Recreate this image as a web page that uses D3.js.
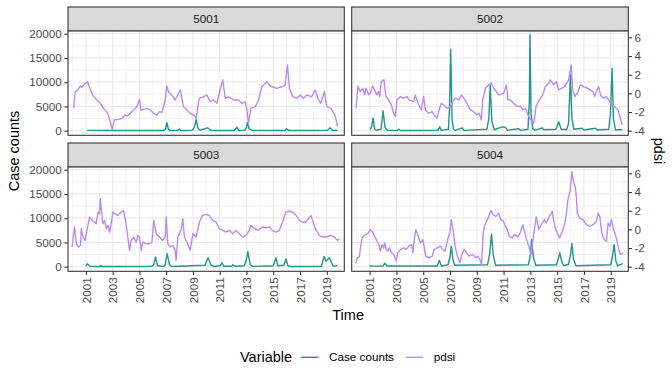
<!DOCTYPE html>
<html>
<head>
<meta charset="utf-8">
<script src="https://cdn.jsdelivr.net/npm/d3@7"></script>
<style>
body { margin: 0; background: #fff; }
text { font-family: "Liberation Sans", Arial, Helvetica, sans-serif; }
</style>
</head>
<body>
<svg id="chart" width="672" height="384"></svg>
<script>
// sites (facets)
var sites = ["5001", "5002", "5003", "5004"];

// pdsi per site: [year, pdsi]
var pdsi5001 = [[2000.08,-1.61],[2000.20,0.18],[2000.38,0.36],[2000.58,0.79],[2000.70,0.64],[2000.83,0.89],[2001.12,1.25],[2001.32,0.43],[2001.57,-0.36],[2001.82,-0.71],[2002.07,-1.07],[2002.32,-1.61],[2002.62,-2.14],[2002.82,-3.04],[2002.97,-3.86],[2003.12,-2.86],[2003.44,-2.79],[2003.69,-2.68],[2003.94,-2.32],[2004.06,-2.43],[2004.31,-2.14],[2004.56,-1.79],[2004.81,-1.43],[2005.01,-0.64],[2005.11,-1.79],[2005.56,-1.61],[2005.80,-1.79],[2006.05,-2.14],[2006.30,-2.32],[2006.50,-1.96],[2006.68,-2.07],[2006.92,-0.71],[2007.05,0.79],[2007.17,0.18],[2007.42,-0.18],[2007.67,-0.71],[2008.05,0.36],[2008.29,-1.43],[2008.54,-1.79],[2008.79,-2.14],[2009.04,-2.32],[2009.24,-2.68],[2009.46,-0.54],[2009.79,-0.36],[2010.04,-0.18],[2010.29,-0.89],[2010.53,-0.71],[2010.78,-1.07],[2011.03,0.36],[2011.23,1.43],[2011.41,-0.54],[2011.65,-0.36],[2012.03,-0.71],[2012.40,-0.71],[2012.65,-1.07],[2012.90,-0.89],[2013.02,-1.61],[2013.15,-3.21],[2013.32,-1.61],[2013.65,-1.43],[2013.90,-0.71],[2014.14,0.71],[2014.52,1.25],[2014.77,0.79],[2015.26,0.54],[2015.64,0.71],[2015.89,0.89],[2016.06,3.04],[2016.21,0.54],[2016.46,-0.36],[2016.76,-0.54],[2017.01,-0.18],[2017.26,-0.54],[2017.50,-0.18],[2017.88,-0.36],[2018.13,0.36],[2018.38,-0.71],[2018.55,-1.07],[2018.82,0.18],[2019.00,-1.43],[2019.30,-1.61],[2019.62,-2.32],[2019.80,-3.57]];
var pdsi5002 = [[1999.98,-1.60],[2000.13,0.80],[2000.30,0.19],[2000.48,0.55],[2000.63,-0.16],[2000.73,0.55],[2000.93,-0.16],[2001.05,0.01],[2001.22,0.80],[2001.37,0.37],[2001.55,-0.16],[2001.67,0.19],[2001.75,-0.34],[2001.87,1.27],[2002.07,1.45],[2002.22,-0.34],[2002.42,-0.70],[2002.62,-1.24],[2002.79,-2.14],[2002.92,-2.49],[2003.04,-0.70],[2003.29,-0.34],[2003.54,-0.52],[2003.79,-0.34],[2003.91,-0.70],[2004.29,-0.88],[2004.41,-0.16],[2004.61,-1.06],[2004.86,-1.78],[2005.03,-0.34],[2005.16,-1.78],[2005.41,-2.14],[2005.66,-1.96],[2005.90,-2.49],[2006.03,-2.67],[2006.15,-1.96],[2006.35,-1.06],[2006.53,-1.24],[2006.78,-1.60],[2007.02,-1.42],[2007.20,-0.88],[2007.40,-0.52],[2007.65,-0.70],[2007.85,-0.16],[2008.02,-0.52],[2008.27,-1.06],[2008.52,-1.78],[2008.77,-1.96],[2009.02,-2.32],[2009.19,-2.14],[2009.34,-2.85],[2009.44,-0.70],[2009.64,0.55],[2009.89,0.91],[2010.09,1.09],[2010.26,0.55],[2010.63,-0.16],[2011.01,0.01],[2011.21,0.91],[2011.33,-0.70],[2011.51,-0.70],[2011.75,-1.06],[2012.00,-1.42],[2012.25,-1.35],[2012.43,-1.78],[2012.63,-1.60],[2012.82,-2.32],[2012.95,-2.67],[2013.12,-3.03],[2013.25,-3.21],[2013.42,-1.42],[2013.67,-0.70],[2013.92,-0.16],[2014.12,0.73],[2014.37,1.09],[2014.49,1.45],[2014.74,0.91],[2014.94,1.27],[2015.11,0.37],[2015.36,0.55],[2015.56,0.73],[2015.86,1.45],[2016.04,3.06],[2016.16,0.37],[2016.31,-0.34],[2016.56,0.19],[2016.73,0.91],[2016.98,0.73],[2017.23,0.55],[2017.48,0.37],[2017.68,0.19],[2017.80,-0.34],[2017.98,0.37],[2018.10,0.73],[2018.23,-0.16],[2018.48,-0.52],[2018.65,-0.34],[2018.85,-0.70],[2019.05,-1.24],[2019.30,-1.42],[2019.55,-1.78],[2019.72,-2.67],[2019.85,-3.39]];
var pdsi5003 = [[1999.96,-1.89],[2000.15,0.25],[2000.28,-1.54],[2000.45,-1.89],[2000.60,-1.71],[2000.65,0.07],[2000.78,-0.82],[2000.95,-1.18],[2001.15,0.43],[2001.27,1.32],[2001.47,0.96],[2001.65,0.79],[2001.77,0.61],[2001.90,1.86],[2002.02,1.68],[2002.07,3.29],[2002.17,1.86],[2002.27,0.61],[2002.39,0.96],[2002.52,0.07],[2002.64,0.43],[2002.77,-0.29],[2002.89,0.61],[2003.01,1.86],[2003.14,1.68],[2003.39,1.50],[2003.64,1.86],[2003.81,2.04],[2003.96,0.96],[2004.13,-0.82],[2004.26,-2.25],[2004.38,-1.18],[2004.56,-0.82],[2004.76,-1.36],[2004.88,-0.64],[2005.00,-0.82],[2005.13,-2.25],[2005.25,-1.36],[2005.50,-1.54],[2005.75,-1.54],[2005.93,-1.36],[2006.07,0.96],[2006.25,-0.46],[2006.50,-0.82],[2006.75,-1.18],[2006.92,-0.82],[2007.00,1.32],[2007.12,-1.54],[2007.29,-1.89],[2007.49,-1.71],[2007.67,-2.25],[2007.74,-3.32],[2007.87,-0.82],[2008.11,-0.11],[2008.24,1.14],[2008.36,-0.82],[2008.61,-1.54],[2008.79,-2.25],[2008.99,-0.46],[2009.23,-0.82],[2009.48,0.79],[2009.73,1.50],[2009.98,1.61],[2010.23,1.50],[2010.48,0.96],[2010.73,0.79],[2010.98,0.07],[2011.22,-0.11],[2011.47,-0.29],[2011.72,-0.11],[2011.97,-0.46],[2012.22,-0.11],[2012.47,-0.46],[2012.72,-0.82],[2012.97,-0.64],[2013.21,-0.11],[2013.34,0.43],[2013.59,0.07],[2013.84,-0.11],[2014.21,0.25],[2014.46,0.18],[2014.71,0.25],[2014.91,-0.11],[2015.20,-0.29],[2015.45,-0.11],[2015.70,0.79],[2015.95,1.86],[2016.20,1.96],[2016.45,1.86],[2016.70,1.50],[2016.95,0.96],[2017.19,0.79],[2017.44,0.79],[2017.82,1.50],[2017.94,0.96],[2018.14,0.07],[2018.44,-0.64],[2018.69,-0.82],[2018.94,-0.82],[2019.31,-0.64],[2019.56,-0.82],[2019.81,-1.18],[2019.93,-1.00]];
var pdsi5004 = [[1999.98,-3.57],[2000.08,-3.04],[2000.23,-2.94],[2000.30,-2.16],[2000.43,-0.91],[2000.68,-0.56],[2000.85,-0.49],[2001.05,-0.03],[2001.18,-0.21],[2001.38,-0.74],[2001.55,-1.27],[2001.68,-1.62],[2001.80,-2.33],[2001.93,-1.62],[2002.05,-1.98],[2002.13,-1.45],[2002.23,-2.16],[2002.38,-2.33],[2002.48,-1.98],[2002.63,-2.51],[2002.80,-2.69],[2002.98,-3.40],[2003.10,-2.51],[2003.30,-2.16],[2003.55,-1.98],[2003.73,-2.16],[2003.93,-1.80],[2004.13,-1.62],[2004.23,-2.51],[2004.33,-1.09],[2004.45,-0.03],[2004.58,-0.56],[2004.80,-1.45],[2004.98,-1.09],[2005.18,-2.87],[2005.43,-3.04],[2005.68,-2.87],[2005.80,-2.16],[2006.05,-1.98],[2006.30,-1.80],[2006.43,-2.16],[2006.63,-2.33],[2006.83,-1.09],[2006.98,-0.38],[2007.10,1.04],[2007.23,-0.03],[2007.38,-1.80],[2007.55,-2.87],[2007.73,-3.57],[2007.88,-2.69],[2008.05,-2.16],[2008.23,-2.51],[2008.43,-2.87],[2008.68,-2.69],[2008.93,-3.04],[2009.05,-2.87],[2009.23,-3.22],[2009.35,-3.75],[2009.48,-0.38],[2009.60,0.50],[2009.80,1.04],[2009.93,1.57],[2010.05,2.03],[2010.23,1.57],[2010.43,1.39],[2010.63,1.74],[2010.80,1.04],[2011.00,0.86],[2011.13,0.33],[2011.23,0.15],[2011.43,-0.74],[2011.63,-0.91],[2011.80,-0.56],[2012.05,-0.81],[2012.23,-0.38],[2012.35,0.15],[2012.43,0.50],[2012.68,-0.91],[2012.88,-1.80],[2013.05,-2.69],[2013.23,-0.74],[2013.43,1.32],[2013.63,-0.03],[2013.80,0.50],[2014.05,1.04],[2014.18,0.68],[2014.43,1.39],[2014.63,1.92],[2014.73,1.04],[2014.85,0.15],[2015.18,-0.91],[2015.38,-0.21],[2015.55,0.50],[2015.68,1.57],[2015.80,3.16],[2015.98,4.23],[2016.10,6.18],[2016.23,5.11],[2016.35,4.58],[2016.43,3.52],[2016.50,1.74],[2016.68,1.21],[2016.93,1.04],[2017.18,0.50],[2017.43,0.33],[2017.68,0.50],[2017.93,0.86],[2018.05,1.74],[2018.18,1.39],[2018.33,-0.38],[2018.50,-1.09],[2018.68,-1.27],[2018.80,0.68],[2018.93,0.33],[2019.05,1.04],[2019.18,0.15],[2019.38,-0.74],[2019.50,-1.45],[2019.63,-2.33],[2019.73,-2.69],[2019.93,-2.51]];

// case counts per site: [year, cases]
var cases5001 = [[2001.07,60],[2003.5,40],[2006.8,50],[2006.95,300],[2007.05,1650],[2007.17,250],[2007.3,60],[2007.85,60],[2007.97,350],[2008.1,50],[2008.95,100],[2009.1,700],[2009.24,2300],[2009.38,400],[2009.55,120],[2009.9,400],[2010.1,600],[2010.3,150],[2010.5,40],[2012.1,50],[2012.28,750],[2012.42,50],[2012.9,120],[2013.0,700],[2013.07,1700],[2013.2,400],[2013.4,60],[2015.85,50],[2016.0,400],[2016.15,50],[2019.05,60],[2019.25,600],[2019.42,100],[2019.8,60]];
var cases5002 = [[2001.05,150],[2001.15,800],[2001.25,2650],[2001.38,300],[2001.5,100],[2001.85,300],[2002.0,4100],[2002.15,700],[2002.3,100],[2003.05,60],[2003.17,300],[2003.3,50],[2006.1,60],[2006.23,800],[2006.35,60],[2006.88,300],[2006.97,5000],[2007.05,16800],[2007.15,2500],[2007.25,300],[2007.4,80],[2007.9,600],[2008.05,60],[2009.75,300],[2009.9,2500],[2010.0,9450],[2010.12,2000],[2010.3,200],[2010.88,800],[2011.13,700],[2011.3,100],[2012.13,400],[2012.3,60],[2012.82,300],[2012.92,6000],[2012.97,19800],[2013.05,3500],[2013.18,400],[2013.35,60],[2013.87,600],[2014.0,200],[2014.9,300],[2015.11,1850],[2015.3,300],[2015.7,200],[2015.85,1500],[2015.99,11500],[2016.1,2500],[2016.25,300],[2016.86,500],[2017.0,150],[2017.85,500],[2018.0,150],[2018.85,300],[2018.98,3500],[2019.1,12900],[2019.2,2500],[2019.35,200],[2019.85,200]];
var cases5003 = [[2001.0,100],[2001.1,600],[2001.3,100],[2002.0,50],[2002.1,150],[2002.25,30],[2005.9,60],[2006.05,300],[2006.2,2000],[2006.35,200],[2006.8,60],[2006.92,400],[2007.07,2700],[2007.25,400],[2007.4,50],[2009.9,300],[2010.13,1850],[2010.35,300],[2010.55,50],[2011.05,200],[2011.17,820],[2011.3,100],[2011.9,100],[2011.97,400],[2012.15,100],[2012.85,200],[2013.0,1500],[2013.1,3150],[2013.28,400],[2013.45,60],[2015.0,200],[2015.2,1850],[2015.35,200],[2015.8,300],[2015.95,1650],[2016.1,200],[2016.3,40],[2018.6,100],[2018.8,2100],[2018.95,1150],[2019.2,1850],[2019.45,200],[2019.6,80],[2019.8,350]];
var cases5004 = [[2001.0,200],[2001.3,120],[2002.0,120],[2002.13,700],[2002.3,150],[2006.05,150],[2006.2,1360],[2006.35,150],[2006.85,400],[2007.0,2000],[2007.1,4230],[2007.22,1500],[2007.35,300],[2009.8,400],[2009.95,2500],[2010.1,6750],[2010.22,2500],[2010.4,300],[2012.85,400],[2013.0,2500],[2013.1,5600],[2013.22,2000],[2013.4,300],[2014.95,400],[2015.1,1800],[2015.2,2870],[2015.35,900],[2015.5,200],[2015.85,500],[2016.0,2500],[2016.1,4780],[2016.22,1500],[2016.4,200],[2019.0,400],[2019.12,2000],[2019.25,4570],[2019.38,1200],[2019.5,200],[2019.9,650]];

var pdsiData = {"5001": pdsi5001, "5002": pdsi5002, "5003": pdsi5003, "5004": pdsi5004};
var caseData = {"5001": cases5001, "5002": cases5002, "5003": cases5003, "5004": cases5004};

// ticks
var xMajor = [2001, 2003, 2005, 2007, 2009, 2011, 2013, 2015, 2017, 2019];
var xMinor = [2000, 2002, 2004, 2006, 2008, 2010, 2012, 2014, 2016, 2018, 2020];
var yMajor = [0, 5000, 10000, 15000, 20000];
var yMinor = [2500, 7500, 12500, 17500];
var pdsiTicks = [-4, -2, 0, 2, 4, 6];

var seriesNames = ["Case counts", "pdsi"];
var seriesColors = {"Case counts": "#21968a", "pdsi": "#bb8af8"};

// layout
var colX = [[68, 344.3], [351.7, 628.3]];
var rowY = [[31, 135.3], [167, 271.3]];
var stripH = 24;
var pdsiScale = 1924; // cases per pdsi unit, pdsi -4 sits at 0 cases

var svg = d3.select("#chart");
var x = d3.scaleLinear().domain([1999.66, 2020.31]);
var y = d3.scaleLinear().domain([-948, 20557]);
var yp = d3.scaleLinear().domain([-948 / pdsiScale - 4, 20557 / pdsiScale - 4]);

var fmtMinus = function(d) { return d < 0 ? "-" + Math.abs(d) : String(d); };

sites.forEach(function(site, i) {
  var col = i % 2, row = Math.floor(i / 2);
  var x0 = colX[col][0], w = colX[col][1] - colX[col][0];
  var y0 = rowY[row][0], h = rowY[row][1] - rowY[row][0];
  x.range([0, w]);
  y.range([h, 0]);
  yp.range([h, 0]);

  // strip
  var sg = svg.append("g").attr("transform", "translate(" + x0 + "," + (y0 - stripH) + ")");
  sg.append("rect").attr("width", w).attr("height", stripH)
    .attr("fill", "#d9d9d9").attr("stroke", "#333333").attr("stroke-width", 1.07);
  sg.append("text").attr("x", w / 2).attr("y", stripH / 2).attr("dy", "0.35em")
    .attr("text-anchor", "middle").attr("font-size", "11.7px").attr("fill", "#1a1a1a")
    .text(site);

  var g = svg.append("g").attr("transform", "translate(" + x0 + "," + y0 + ")");
  g.append("rect").attr("width", w).attr("height", h).attr("fill", "#fff");

  // grid
  g.selectAll(".vmin").data(xMinor.filter(function(d) { return x(d) >= 0 && x(d) <= w; }))
    .enter().append("line")
    .attr("x1", function(d) { return x(d); }).attr("x2", function(d) { return x(d); })
    .attr("y1", 0).attr("y2", h).attr("stroke", "#ebebeb").attr("stroke-width", 0.6);
  g.selectAll(".hmin").data(yMinor).enter().append("line")
    .attr("x1", 0).attr("x2", w)
    .attr("y1", function(d) { return y(d); }).attr("y2", function(d) { return y(d); })
    .attr("stroke", "#ebebeb").attr("stroke-width", 0.6);
  g.selectAll(".vmaj").data(xMajor).enter().append("line")
    .attr("x1", function(d) { return x(d); }).attr("x2", function(d) { return x(d); })
    .attr("y1", 0).attr("y2", h).attr("stroke", "#ebebeb").attr("stroke-width", 1.2);
  g.selectAll(".hmaj").data(yMajor).enter().append("line")
    .attr("x1", 0).attr("x2", w)
    .attr("y1", function(d) { return y(d); }).attr("y2", function(d) { return y(d); })
    .attr("stroke", "#ebebeb").attr("stroke-width", 1.2);

  // lines
  var clipId = "clip" + site;
  g.append("clipPath").attr("id", clipId).append("rect").attr("width", w).attr("height", h);
  var lineCases = d3.line().x(function(d) { return x(d[0]); }).y(function(d) { return y(d[1]); });
  var linePdsi = d3.line().x(function(d) { return x(d[0]); }).y(function(d) { return yp(d[1]); });
  var lg = g.append("g").attr("clip-path", "url(#" + clipId + ")");
  lg.append("path").datum(caseData[site]).attr("d", lineCases)
    .attr("fill", "none").attr("stroke", seriesColors["Case counts"]).attr("stroke-width", 1.4)
    .attr("stroke-linejoin", "round");
  lg.append("path").datum(pdsiData[site]).attr("d", linePdsi)
    .attr("fill", "none").attr("stroke", seriesColors["pdsi"]).attr("stroke-width", 1.4)
    .attr("stroke-linejoin", "round");

  g.append("rect").attr("width", w).attr("height", h)
    .attr("fill", "none").attr("stroke", "#333333").attr("stroke-width", 1.07);

  // axes
  var styleAxis = function(a) {
    a.select(".domain").remove();
    a.selectAll(".tick line").attr("stroke", "#333333").attr("stroke-width", 1.07);
    a.selectAll(".tick text").attr("fill", "#4d4d4d").attr("font-size", "11.7px")
      .attr("font-family", "Liberation Sans, Arial, sans-serif");
  };
  if (col === 0) {
    g.append("g").call(d3.axisLeft(y).tickValues(yMajor).tickSize(3.67).tickPadding(2.5)
        .tickFormat(d3.format("d")))
      .call(styleAxis);
  } else {
    g.append("g").attr("transform", "translate(" + w + ",0)")
      .call(d3.axisRight(yp).tickValues(pdsiTicks).tickSize(3.67).tickPadding(2.5).tickFormat(fmtMinus))
      .call(styleAxis);
  }
  if (row === 1) {
    var ax = g.append("g").attr("transform", "translate(0," + h + ")")
      .call(d3.axisBottom(x).tickValues(xMajor).tickSize(3.67).tickFormat(d3.format("d")))
      .call(styleAxis);
    ax.selectAll(".tick text")
      .attr("transform", "rotate(-90)")
      .attr("x", -6).attr("y", 0).attr("dy", "0.35em")
      .attr("text-anchor", "end");
  }
});

// axis titles
svg.append("text").attr("transform", "translate(19,151) rotate(-90)")
  .attr("text-anchor", "middle").attr("font-size", "14.5px").attr("fill", "#000")
  .text("Case counts");
svg.append("text").attr("transform", "translate(654,151) rotate(90)")
  .attr("text-anchor", "middle").attr("font-size", "14.5px").attr("fill", "#000")
  .text("pdsi");
svg.append("text").attr("x", (68 + 628.3) / 2).attr("y", 320)
  .attr("text-anchor", "middle").attr("font-size", "14.5px").attr("fill", "#000")
  .text("Time");

// legend
var legY = 357.3;
svg.append("text").attr("x", 240).attr("y", legY).attr("dy", "0.35em")
  .attr("font-size", "14.5px").attr("fill", "#000").text("Variable");
var legX = [301, 405.7];
seriesNames.forEach(function(name, k) {
  svg.append("line").attr("x1", legX[k]).attr("x2", legX[k] + 17.5)
    .attr("y1", legY).attr("y2", legY)
    .attr("stroke", seriesColors[name]).attr("stroke-width", 1.4);
  svg.append("text").attr("x", legX[k] + 28).attr("y", legY).attr("dy", "0.35em")
    .attr("font-size", "11.7px").attr("fill", "#000").text(name);
});
</script>
</body>
</html>
